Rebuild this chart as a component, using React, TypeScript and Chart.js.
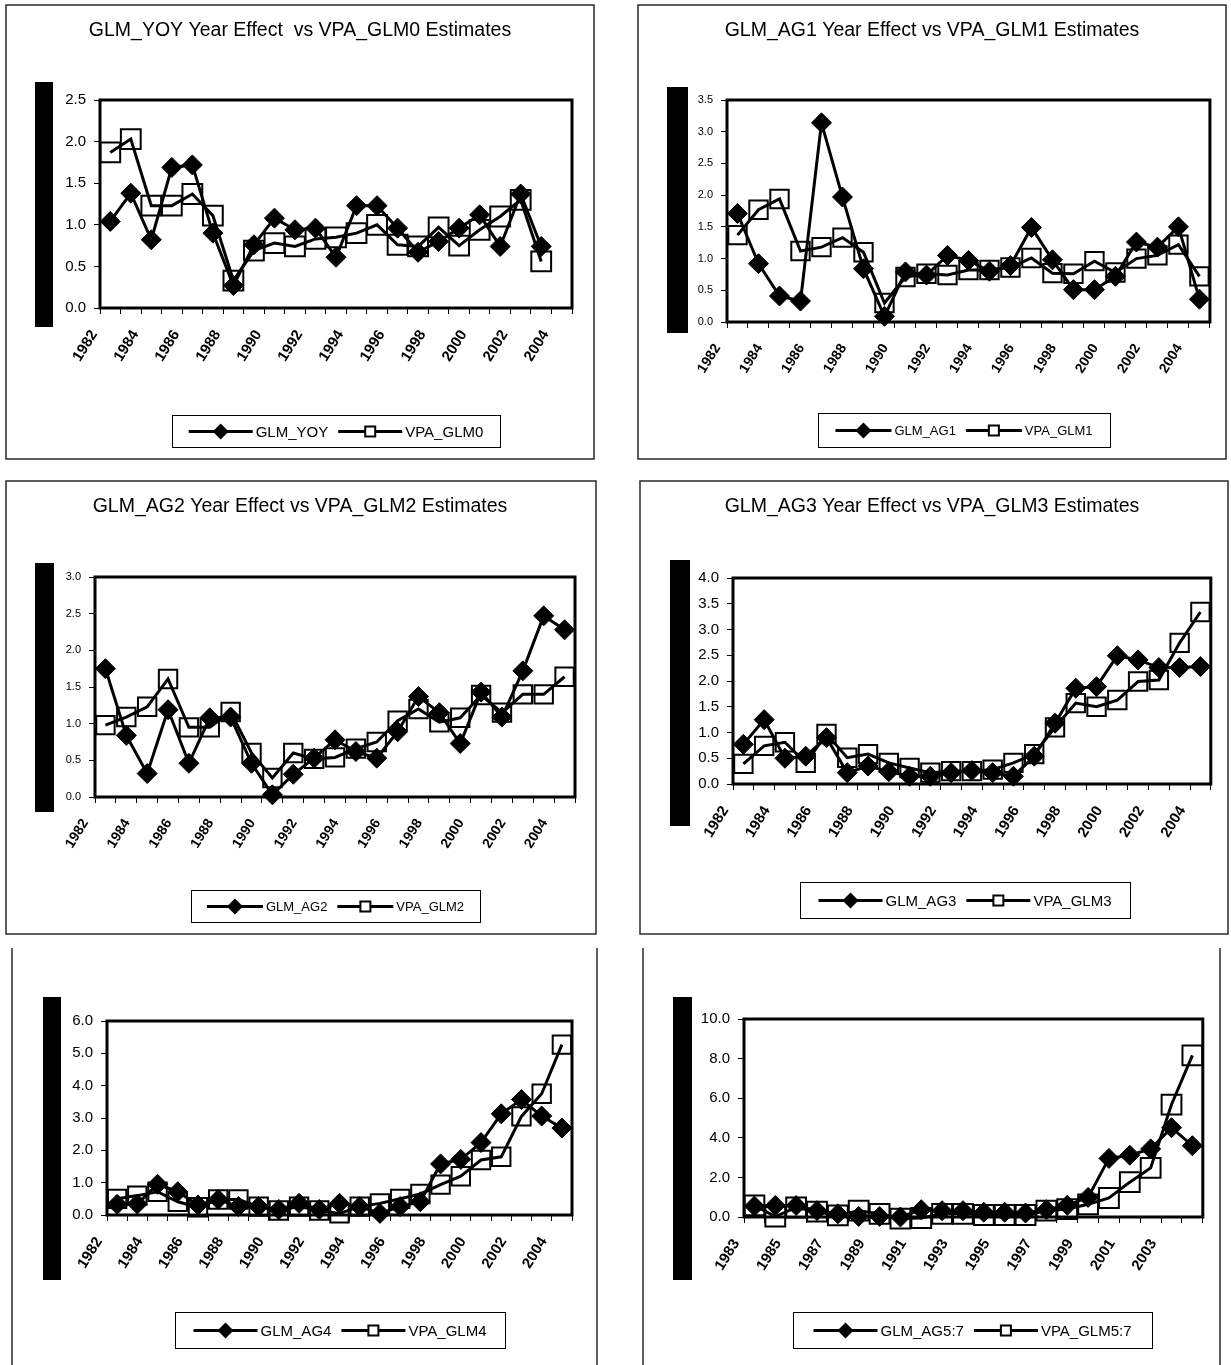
import React, { useEffect, useRef } from 'react';
import { Chart, registerables } from 'chart.js';

Chart.register(...registerables);

const FONT = '"Liberation Sans", Arial, Helvetica, sans-serif';

// ---------- categories ----------
const YEARS_1982_2004 = ['1982','1983','1984','1985','1986','1987','1988','1989','1990','1991','1992','1993','1994','1995','1996','1997','1998','1999','2000','2001','2002','2003','2004'];
const YEARS_1983_2004 = ['1983','1984','1985','1986','1987','1988','1989','1990','1991','1992','1993','1994','1995','1996','1997','1998','1999','2000','2001','2002','2003','2004'];

// ---------- series ----------
const GLM_YOY = [1.04,1.38,0.82,1.69,1.72,0.90,0.27,0.76,1.08,0.94,0.96,0.61,1.23,1.23,0.96,0.67,0.80,0.96,1.12,0.74,1.37,0.74];
const VPA_GLM0 = [1.87,2.03,1.23,1.23,1.37,1.11,0.33,0.69,0.78,0.74,0.83,0.85,0.90,1.00,0.76,0.74,0.97,0.75,0.94,1.10,1.30,0.56];

const GLM_AG1 = [1.71,0.92,0.41,0.33,3.14,1.97,0.84,0.09,0.79,0.74,1.05,0.97,0.80,0.89,1.49,0.98,0.51,0.51,0.72,1.26,1.18,1.50,0.36];
const VPA_GLM1 = [1.37,1.77,1.94,1.12,1.18,1.33,1.10,0.30,0.71,0.76,0.74,0.82,0.82,0.86,1.01,0.77,0.76,0.96,0.78,1.00,1.05,1.22,0.72];

const GLM_AG2 = [1.75,0.84,0.32,1.19,0.46,1.08,1.09,0.46,0.03,0.31,0.53,0.78,0.62,0.53,0.89,1.37,1.15,0.73,1.43,1.09,1.72,2.47,2.28];
const VPA_GLM2 = [0.98,1.09,1.23,1.61,0.95,0.95,1.16,0.60,0.26,0.60,0.52,0.54,0.66,0.75,1.04,1.20,1.02,1.08,1.39,1.15,1.40,1.40,1.64];

const GLM_AG3 = [0.77,1.25,0.50,0.54,0.90,0.22,0.35,0.24,0.15,0.15,0.22,0.26,0.22,0.15,0.54,1.18,1.86,1.89,2.49,2.41,2.26,2.26,2.28];
const VPA_GLM3 = [0.39,0.74,0.81,0.41,0.97,0.51,0.58,0.41,0.31,0.22,0.25,0.25,0.28,0.41,0.58,1.10,1.57,1.50,1.63,1.99,2.02,2.74,3.34];

const GLM_AG4 = [0.33,0.34,0.95,0.72,0.31,0.48,0.26,0.26,0.17,0.36,0.17,0.36,0.26,0.05,0.26,0.41,1.58,1.72,2.24,3.13,3.57,3.06,2.69];
const VPA_GLM4 = [0.50,0.60,0.72,0.41,0.24,0.48,0.48,0.26,0.14,0.26,0.14,0.05,0.26,0.36,0.50,0.65,0.94,1.20,1.70,1.80,3.05,3.75,5.27];

const GLM_AG5_7 = [0.55,0.58,0.58,0.32,0.16,0.03,0.03,0.00,0.37,0.32,0.32,0.24,0.24,0.20,0.37,0.59,0.99,2.96,3.12,3.44,4.51,3.60];
const VPA_GLM5_7 = [0.59,0.02,0.48,0.27,0.08,0.32,0.16,-0.08,-0.05,0.16,0.16,0.10,0.10,0.10,0.32,0.40,0.64,0.96,1.76,2.48,5.68,8.16];

// ---------- axis tick settings ----------
const Y_MAX = [2.5, 3.5, 3.0, 4.0, 6.0, 10.0];
const Y_STEP = [0.5, 0.5, 0.5, 0.5, 1.0, 2.0];

// ---------- layout (page coordinates) ----------
type Rect = { x: number; y: number; w: number; h: number };
type PanelDef = {
  box: Rect;
  sidesOnly?: boolean;
  plot: { l: number; t: number; r: number; b: number };
  bar: Rect;
  title?: string;
  titleAt?: { x: number; y: number };
  legend: Rect;
  labels: string[];
  names: [string, string];
  glm: number[];
  vpa: number[];
  yMax: number;
  yStep: number;
  tickFont: number;
  xFont: number;
  legendFont: number;
  diamondR: number;
  squareR: number;
  labelOffset: number;
};

const PANELS: PanelDef[] = [
  {
    box: { x: 5, y: 4, w: 590, h: 456 },
    plot: { l: 100, t: 100, r: 572, b: 308 },
    bar: { x: 35, y: 82, w: 18, h: 245 },
    title: 'GLM_YOY Year Effect  vs VPA_GLM0 Estimates',
    titleAt: { x: 300, y: 31 },
    legend: { x: 172, y: 415, w: 328, h: 32 },
    labels: YEARS_1982_2004,
    names: ['GLM_YOY', 'VPA_GLM0'],
    glm: GLM_YOY, vpa: VPA_GLM0,
    yMax: Y_MAX[0], yStep: Y_STEP[0],
    tickFont: 15, xFont: 15, legendFont: 15, diamondR: 10, squareR: 14, labelOffset: -16,
  },
  {
    box: { x: 637, y: 4, w: 590, h: 456 },
    plot: { l: 727, t: 100, r: 1213, b: 322 },
    bar: { x: 667, y: 87, w: 21, h: 246 },
    title: 'GLM_AG1 Year Effect vs VPA_GLM1 Estimates',
    titleAt: { x: 932, y: 31 },
    legend: { x: 818, y: 413, w: 292, h: 34 },
    labels: YEARS_1982_2004,
    names: ['GLM_AG1', 'VPA_GLM1'],
    glm: GLM_AG1, vpa: VPA_GLM1,
    yMax: Y_MAX[1], yStep: Y_STEP[1],
    tickFont: 11, xFont: 14, legendFont: 13, diamondR: 10, squareR: 13, labelOffset: -20,
  },
  {
    box: { x: 5, y: 480, w: 592, h: 455 },
    plot: { l: 95, t: 577, r: 575, b: 797 },
    bar: { x: 35, y: 563, w: 19, h: 249 },
    title: 'GLM_AG2 Year Effect vs VPA_GLM2 Estimates',
    titleAt: { x: 300, y: 507 },
    legend: { x: 191, y: 890, w: 289, h: 32 },
    labels: YEARS_1982_2004,
    names: ['GLM_AG2', 'VPA_GLM2'],
    glm: GLM_AG2, vpa: VPA_GLM2,
    yMax: Y_MAX[2], yStep: Y_STEP[2],
    tickFont: 11, xFont: 14, legendFont: 13, diamondR: 10, squareR: 13, labelOffset: -20,
  },
  {
    box: { x: 639, y: 480, w: 590, h: 455 },
    plot: { l: 733, t: 578, r: 1225, b: 784 },
    bar: { x: 670, y: 560, w: 20, h: 266 },
    title: 'GLM_AG3 Year Effect vs VPA_GLM3 Estimates',
    titleAt: { x: 932, y: 507 },
    legend: { x: 800, y: 882, w: 330, h: 36 },
    labels: YEARS_1982_2004,
    names: ['GLM_AG3', 'VPA_GLM3'],
    glm: GLM_AG3, vpa: VPA_GLM3,
    yMax: Y_MAX[3], yStep: Y_STEP[3],
    tickFont: 15, xFont: 15, legendFont: 15, diamondR: 10, squareR: 13, labelOffset: -18,
  },
  {
    box: { x: 11, y: 940, w: 587, h: 425 },
    sidesOnly: true,
    plot: { l: 107, t: 1021, r: 572, b: 1215 },
    bar: { x: 43, y: 997, w: 18, h: 283 },
    legend: { x: 175, y: 1312, w: 330, h: 36 },
    labels: YEARS_1982_2004,
    names: ['GLM_AG4', 'VPA_GLM4'],
    glm: GLM_AG4, vpa: VPA_GLM4,
    yMax: Y_MAX[4], yStep: Y_STEP[4],
    tickFont: 15, xFont: 15, legendFont: 15, diamondR: 10, squareR: 13, labelOffset: -18,
  },
  {
    box: { x: 642, y: 940, w: 579, h: 425 },
    sidesOnly: true,
    plot: { l: 744, t: 1019, r: 1212, b: 1217 },
    bar: { x: 673, y: 997, w: 19, h: 283 },
    legend: { x: 793, y: 1312, w: 359, h: 36 },
    labels: YEARS_1983_2004,
    names: ['GLM_AG5:7', 'VPA_GLM5:7'],
    glm: GLM_AG5_7, vpa: VPA_GLM5_7,
    yMax: Y_MAX[5], yStep: Y_STEP[5],
    tickFont: 15, xFont: 15, legendFont: 15, diamondR: 10, squareR: 14, labelOffset: -18,
  },
];

function drawDiamond(ctx: CanvasRenderingContext2D, x: number, y: number, r: number) {
  ctx.beginPath();
  ctx.moveTo(x - r, y);
  ctx.lineTo(x, y - r);
  ctx.lineTo(x + r, y);
  ctx.lineTo(x, y + r);
  ctx.closePath();
  ctx.fill();
}

function buildChart(canvas: HTMLCanvasElement, p: PanelDef) {
  const bx = p.box.x;
  const by = p.box.y;
  const W = p.box.w;
  const H = p.box.h;
  const pl = p.plot.l - bx;
  const pt = p.plot.t - by;
  const pr = p.plot.r - bx;
  const pb = p.plot.b - by;
  const TL = 6;

  const decor = {
    id: 'decor',
    beforeDraw(chart: any) {
      const ctx: CanvasRenderingContext2D = chart.ctx;
      ctx.save();
      ctx.fillStyle = '#ffffff';
      ctx.fillRect(0, 0, W, H);
      ctx.strokeStyle = '#2a2a2a';
      ctx.lineWidth = 1.5;
      if (p.sidesOnly) {
        ctx.beginPath();
        ctx.moveTo(1, 8); ctx.lineTo(1, H);
        ctx.moveTo(W - 1, 8); ctx.lineTo(W - 1, H);
        ctx.stroke();
      } else {
        ctx.strokeRect(1, 1, W - 2, H - 2);
      }
      ctx.fillStyle = '#000';
      ctx.fillRect(p.bar.x - bx, p.bar.y - by, p.bar.w, p.bar.h);
      if (p.title && p.titleAt) {
        ctx.font = `19.5px ${FONT}`;
        ctx.textAlign = 'center';
        ctx.textBaseline = 'middle';
        ctx.fillText(p.title, p.titleAt.x - bx, p.titleAt.y - by);
      }
      ctx.restore();
    },
    beforeDatasetsDraw(chart: any) {
      const ctx: CanvasRenderingContext2D = chart.ctx;
      const a = chart.chartArea;
      ctx.save();
      ctx.strokeStyle = '#000';
      ctx.lineWidth = 3;
      ctx.strokeRect(a.left, a.top, a.right - a.left, a.bottom - a.top);
      ctx.restore();
    },
    afterDraw(chart: any) {
      const ctx: CanvasRenderingContext2D = chart.ctx;
      const L = p.legend;
      const lx = L.x - bx;
      const ly = L.y - by;
      ctx.save();
      ctx.strokeStyle = '#000';
      ctx.lineWidth = 1;
      ctx.strokeRect(lx + 0.5, ly + 0.5, L.w, L.h);
      ctx.font = `${p.legendFont}px ${FONT}`;
      ctx.textBaseline = 'middle';
      ctx.textAlign = 'left';
      const dsets = chart.data.datasets;
      const lineLen = p.legendFont >= 15 ? 64 : 56;
      const gap = 3;
      const itemGap = 10;
      const widths = dsets.map((d: any) => ctx.measureText(d.label).width);
      const total = widths.reduce((s: number, w: number) => s + lineLen + gap + w, 0) + itemGap * (dsets.length - 1);
      let x = lx + (L.w - total) / 2;
      const cy = ly + L.h / 2 + 0.5;
      dsets.forEach((d: any, i: number) => {
        ctx.strokeStyle = '#000';
        ctx.lineWidth = 3;
        ctx.beginPath();
        ctx.moveTo(x, cy);
        ctx.lineTo(x + lineLen, cy);
        ctx.stroke();
        const mx = x + lineLen / 2;
        ctx.fillStyle = '#000';
        if (i === 0) {
          drawDiamond(ctx, mx, cy, 8);
        } else {
          ctx.fillStyle = '#fff';
          ctx.fillRect(mx - 5, cy - 5, 10, 10);
          ctx.lineWidth = 2;
          ctx.strokeRect(mx - 5, cy - 5, 10, 10);
        }
        ctx.fillStyle = '#000';
        ctx.fillText(d.label, x + lineLen + gap, cy + 1);
        x += lineLen + gap + widths[i] + itemGap;
      });
      ctx.restore();
    },
  };

  return new Chart(canvas, {
    type: 'line',
    data: {
      labels: p.labels,
      datasets: [
        {
          label: p.names[0],
          data: p.glm,
          xAxisID: 'x',
          yAxisID: 'y',
          borderColor: '#000',
          borderWidth: 3,
          tension: 0,
          pointStyle: 'rectRot',
          pointRadius: p.diamondR,
          pointBackgroundColor: '#000',
          pointBorderColor: '#000',
          pointBorderWidth: 1,
          clip: false,
          order: 1,
        },
        {
          label: p.names[1],
          data: p.vpa,
          xAxisID: 'x',
          yAxisID: 'y',
          borderColor: '#000',
          borderWidth: 3,
          tension: 0,
          pointStyle: 'rect',
          pointRadius: p.squareR,
          pointBackgroundColor: 'rgba(0,0,0,0)',
          pointBorderColor: '#000',
          pointBorderWidth: 2,
          clip: false,
          order: 0,
        },
      ],
    } as any,
    options: {
      animation: false,
      responsive: false,
      maintainAspectRatio: false,
      events: [],
      layout: { padding: { top: pt, right: W - pr, left: 0, bottom: 0 } },
      plugins: {
        legend: { display: false },
        title: { display: false },
        tooltip: { enabled: false },
      },
      scales: {
        x: {
          type: 'category',
          offset: true,
          grid: { offset: true, drawOnChartArea: false, drawTicks: true, tickLength: TL, color: '#000', lineWidth: 1 },
          border: { display: false },
          ticks: {
            autoSkip: false,
            maxRotation: 58,
            minRotation: 58,
            padding: 13,
            labelOffset: p.labelOffset,
            color: '#000',
            font: { family: FONT, size: p.xFont, weight: 'bold' },
            callback: (_v: any, idx: number) => (idx % 2 === 0 ? p.labels[idx] : ''),
          },
          afterFit: (s: any) => { s.height = H - pb; },
        },
        y: {
          min: 0,
          max: p.yMax,
          grid: { drawOnChartArea: false, drawTicks: true, tickLength: TL, color: '#000', lineWidth: 1 },
          border: { display: false },
          ticks: {
            stepSize: p.yStep,
            padding: 8,
            color: '#000',
            font: { family: FONT, size: p.tickFont },
            callback: (v: any) => Number(v).toFixed(1),
          },
          afterFit: (s: any) => { s.width = pl; },
        },
      },
    } as any,
    plugins: [decor],
  });
}

function ChartPanel({ p }: { p: PanelDef }) {
  const ref = useRef<HTMLCanvasElement>(null);
  useEffect(() => {
    const chart = buildChart(ref.current as HTMLCanvasElement, p);
    return () => chart.destroy();
  }, [p]);
  return (
    <canvas
      ref={ref}
      width={p.box.w}
      height={p.box.h}
      style={{ position: 'absolute', left: p.box.x, top: p.box.y, width: p.box.w, height: p.box.h }}
    />
  );
}

export default function App() {
  return (
    <div style={{ position: 'absolute', left: 0, top: 0, width: 1231, height: 1365, background: '#fff', overflow: 'hidden' }}>
      {PANELS.map((p, i) => (
        <ChartPanel key={i} p={p} />
      ))}
    </div>
  );
}
